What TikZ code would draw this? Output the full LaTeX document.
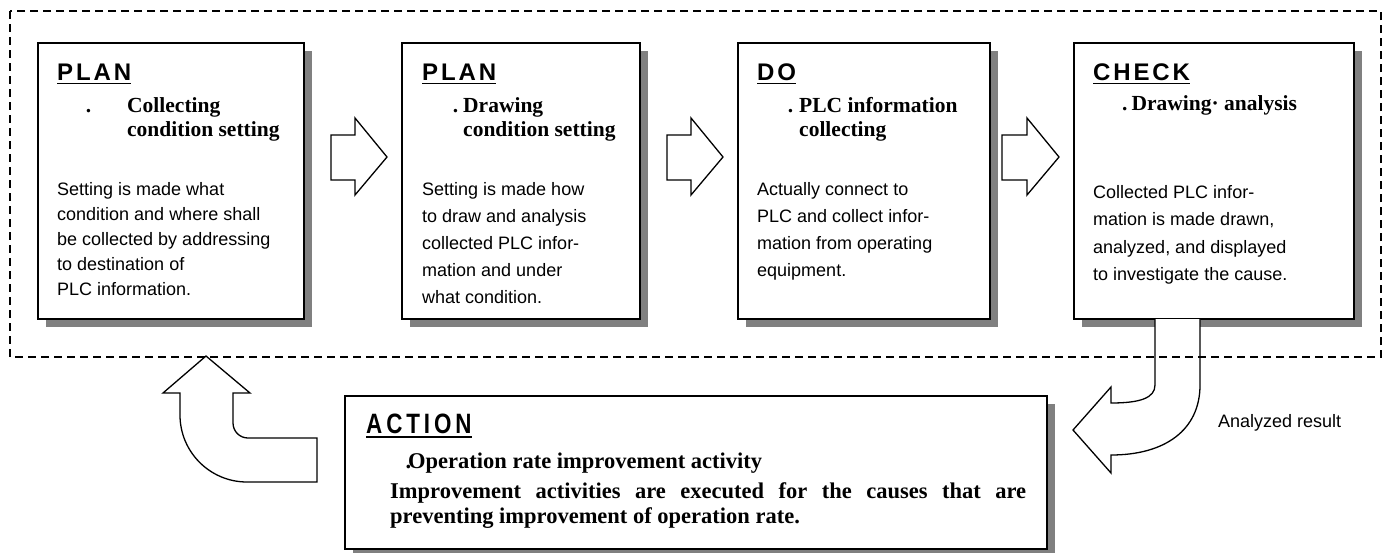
\documentclass[tikz,border=0pt]{standalone}
\usepackage{fontspec}
\setmainfont{Latin Modern Roman}
\newfontfamily\sansbody{Liberation Sans}
\newfontfamily\serifb{Liberation Serif}
\newfontfamily\ttlfont{Liberation Sans}[LetterSpace=12]
\newfontfamily\bigttlfont{Liberation Sans}[FakeStretch=0.8,LetterSpace=14]
\usetikzlibrary{shadows,calc}
\definecolor{shgray}{HTML}{808080}
\begin{document}
\begin{tikzpicture}[x=1pt,y=-1pt,
  stepbox/.style={draw=black,line width=1.6pt,fill=white,anchor=north west,inner sep=0pt,
    general shadow={fill=shgray,shadow xshift=8pt,shadow yshift=-8pt}},
  ttl/.style={anchor=base west,inner sep=0pt,font=\ttlfont\bfseries\fontsize{24}{24}\selectfont},
  bigttl/.style={anchor=base west,inner sep=0pt,font=\bigttlfont\bfseries\fontsize{28}{28}\selectfont},
  uline/.style={line width=1.5pt},
  sub/.style={anchor=base west,inner sep=0pt,font=\serifb\bfseries\fontsize{21.5}{24}\selectfont},
  actsub/.style={anchor=base west,inner sep=0pt,font=\serifb\bfseries\fontsize{22.5}{25}\selectfont},
  body/.style={anchor=base west,inner sep=0pt,font=\sansbody\fontsize{18}{25}\selectfont},
  blockarrow/.style={draw=black,line width=1.3pt,fill=white,line join=miter},
  frame/.style={draw=black,line width=1.2pt,dash pattern=on 8pt off 5pt}]
\useasboundingbox (0,0) rectangle (1388,552);
\fill[white] (0,0) rectangle (1388,552);

% step boxes
\node[stepbox,minimum width=266pt,minimum height=276pt] (b1) at (37,42) {};
\node[stepbox,minimum width=238pt,minimum height=276pt] (b2) at (401,42) {};
\node[stepbox,minimum width=252pt,minimum height=276pt] (b3) at (737,42) {};
\node[stepbox,minimum width=280pt,minimum height=276pt] (b4) at (1073,42) {};
\node[stepbox,minimum width=702pt,minimum height=153pt] (act) at (344,395) {};

% titles
\node[ttl] (t1) at (57,80) {PLAN};
\node[ttl] (t2) at (422,80) {PLAN};
\node[ttl] (t3) at (757,80) {DO};
\node[ttl] (t4) at (1093,80) {CHECK};
\node[bigttl] (t5) at (366,433) {ACTION};
\foreach \t in {t1,t2,t3,t4}
  \draw[uline] ($(\t.base west)+(0,3.5)$) -- ($(\t.base east)+(0,3.5)$);
\draw[uline] ($(t5.base west)+(0,4)$) -- ($(t5.base east)+(0,4)$);

% subtitles
\node[sub] (s1) at (127,112) {\parbox[t]{170pt}{\leavevmode\llap{.\hspace{36pt}}Collecting\\condition setting}};
\node[sub] (s2) at (463,112) {\parbox[t]{170pt}{\leavevmode\llap{.\hspace{5pt}}Drawing\\condition setting}};
\node[sub] (s3) at (799,112) {\parbox[t]{180pt}{\leavevmode\llap{.\hspace{6pt}}PLC information\\collecting}};
\node[sub] (s4) at (1122,110) {.\hspace{4pt}Drawing\textperiodcentered{} analysis};
\node[actsub] (s5) at (408,468) {\llap{.\kern-3pt}Operation rate improvement activity};

% body texts
\node[body] (d1) at (57,195) {\parbox[t]{240pt}{\raggedright
  Setting is made what\\condition and where shall\\be collected by addressing\\to destination of\\PLC information.}};
\node[body] (d2) at (422,195) {\parbox[t]{210pt}{\fontsize{18}{27}\selectfont\raggedright
  Setting is made how\\to draw and analysis\\collected PLC infor-\\mation and under\\what condition.}};
\node[body] (d3) at (757,195) {\parbox[t]{220pt}{\fontsize{18}{27.3}\selectfont\raggedright
  Actually connect to\\PLC and collect infor-\\mation from operating\\equipment.}};
\node[body] (d4) at (1093,198) {\parbox[t]{250pt}{\fontsize{18}{27.5}\selectfont\raggedright
  Collected PLC infor-\\mation is made drawn,\\analyzed, and displayed\\to investigate the cause.}};
\node[actsub] (d5) at (390,498) {\parbox[t]{636pt}{\makebox[636pt][s]{Improvement activities are executed for the causes that are}\\preventing improvement of operation rate.}};

% block arrows between boxes
\draw[blockarrow] (331,135) -- (355,135) -- (355,118) -- (387,157) -- (355,195) -- (355,180) -- (331,180) -- cycle;
\draw[blockarrow] (667,135) -- (691,135) -- (691,118) -- (723,157) -- (691,195) -- (691,180) -- (667,180) -- cycle;
\draw[blockarrow] (1002,135) -- (1027,135) -- (1027,118) -- (1059,157) -- (1027,195) -- (1027,180) -- (1002,180) -- cycle;

% curved arrow from CHECK to ACTION
\filldraw[blockarrow] (1155,319) -- (1155,385) .. controls (1155,398) and (1140,403) .. (1111,403)
  -- (1111,387) -- (1073,430) -- (1111,473) -- (1111,455)
  .. controls (1165,455) and (1200,430) .. (1200,385) -- (1200,319);
\node[body] (ar) at (1218,427) {Analyzed result};

% curved arrow from ACTION back to PLAN
\draw[blockarrow] (206,356) -- (250,393) -- (233,393) -- (233,423)
  .. controls (233,431.3) and (239.7,438) .. (248,438) -- (317,438) -- (317,482) -- (247,482)
  .. controls (210,482) and (180,452) .. (180,415) -- (180,393) -- (163,393) -- cycle;

% dashed frame
\draw[frame] (10,11) rectangle (1381,357);
\end{tikzpicture}
\end{document}
